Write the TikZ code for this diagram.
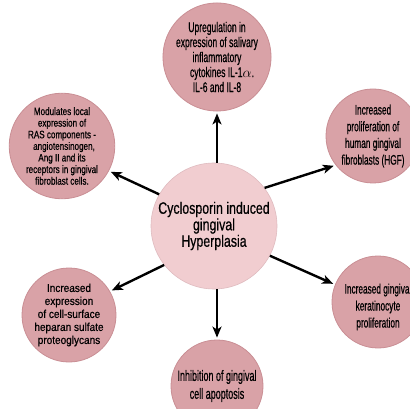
\documentclass[tikz,border=0pt]{standalone}
\usepackage{fontspec}
\setmainfont{Liberation Sans}[FakeStretch=0.6,FakeBold=0.5]
\newfontfamily\fmid{Liberation Sans}[FakeStretch=0.75,FakeBold=0.5]
\newfontfamily\fwide{Liberation Sans}[FakeStretch=0.88,FakeBold=0.5]
\usetikzlibrary{arrows.meta}
\definecolor{outerfill}{HTML}{D9A2A7}
\definecolor{outerline}{HTML}{C98E94}
\definecolor{centerfill}{HTML}{F1CDD0}
\begin{document}
\begin{tikzpicture}[x=1pt,y=-1pt,
  outer/.style={circle,fill=outerfill,draw=outerline,line width=0.8pt,minimum size=#1,inner sep=0pt,align=center},
  outer/.default=92,
  hub/.style={circle,fill=centerfill,draw=outerline!60,line width=0.6pt,minimum size=126,inner sep=0pt,align=center,
    font=\fmid\fontsize{16.5}{16.5}\selectfont},
  conn/.style={line width=2.4pt,shorten >=2pt,-{Stealth[length=11pt,width=9pt,inset=3pt]}}]
\useasboundingbox (0,0) rectangle (410,409);
\clip (0,0) rectangle (410,409);
\node[hub] (c) at (214,226) {Cyclosporin induced\\gingival\\Hyperplasia};
\node[outer=92,font=\fontsize{14.2}{15}\selectfont] (t) at (217,57)
  {Upregulation in\\expression of salivary\\inflammatory\\\hspace*{10pt}cytokines IL-1$\alpha$.\\IL-6 and IL-8};
\node[outer=90,font=\fmid\fontsize{10.8}{11.6}\selectfont] (tl) at (62,146)
  {Modulates local\\expression of\\RAS components -\\\hspace*{4pt}angiotensinogen,\\Ang II and its\\receptors in gingival\\fibroblast cells.};
\node[outer=94,font=\fontsize{13.8}{16.7}\selectfont] (tr) at (373,136)
  {Increased\\proliferation of\\human gingival\\fibroblasts (HGF)};
\node[outer=92,font=\fontsize{13.8}{17}\selectfont] (br) at (378,302)
  {\\[3pt]Increased gingival\\keratinocyte\\proliferation};
\node[outer=94,font=\fwide\fontsize{11.4}{13}\selectfont] (bl) at (69,315)
  {Increased\\expression\\of cell-surface\\heparan sulfate\\proteoglycans};
\node[outer=92,font=\fontsize{15}{18}\selectfont] (b) at (217,386)
  {Inhibition of gingival\\cell apoptosis};
\draw[conn] (c.north -| t) -- (t.south);
\draw[conn] (c.150) -- (tl.-28);
\draw[conn] (c.37) -- (tr.-142);
\draw[conn] (c.-28) -- (br.158);
\draw[conn] (c.-142) -- (bl.30);
\draw[conn] (c.south -| b) -- (b.north);
\end{tikzpicture}
\end{document}
